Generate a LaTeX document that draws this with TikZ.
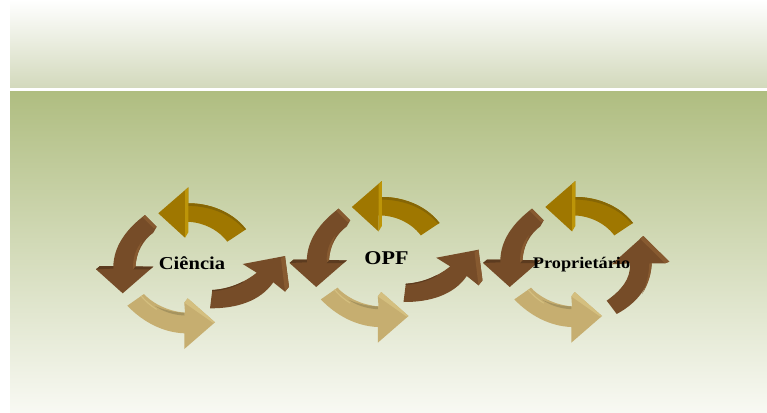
\documentclass[tikz,border=0pt]{standalone}
\usepackage{fontspec}
\setmainfont{Liberation Serif}
\newfontfamily\labelfont[FakeStretch=1.13,BoldFont={Liberation Serif Bold}]{Liberation Serif}
\definecolor{brownM}{HTML}{764C28}
\definecolor{brownL}{HTML}{875A30}
\definecolor{brownD}{HTML}{5C3B1F}
\definecolor{goldM}{HTML}{9F7700}
\definecolor{goldL}{HTML}{BD9508}
\definecolor{goldD}{HTML}{866605}
\definecolor{tanM}{HTML}{C6AE70}
\definecolor{tanL}{HTML}{D4BF7F}
\definecolor{tanD}{HTML}{A6945F}
\definecolor{bandTop}{HTML}{FFFFFF}
\definecolor{bandBot}{HTML}{D3D9BC}
\definecolor{fieldTop}{HTML}{AFBD80}
\definecolor{fieldBot}{HTML}{F8F9F3}
\tikzset{
  brownface/.style={fill=brownM},
  brownlight/.style={fill=brownL},
  browndark/.style={fill=brownD},
  goldface/.style={fill=goldM},
  goldlight/.style={fill=goldL},
  golddark/.style={fill=goldD},
  tanface/.style={fill=tanM},
  tanlight/.style={fill=tanL},
  tandark/.style={fill=tanD},
  label/.style={text=black,inner sep=0pt}
}
\newcommand{\goldarrow}{%
  \path[goldface] (158.3,213.3) -- (188.3,187.3) -- (188.3,203.3) .. controls (208,203) and (232,211) .. (246,229.3) -- (227.3,241.7) .. controls (217,228) and (200,221.5) .. (185,221.7) -- (185,237.7) -- cycle;
  \path[golddark] (188.3,203.3) .. controls (208,203) and (232,211) .. (246,229.3) -- (244.5,229.8) .. controls (230,213) and (208,205.5) .. (185,205.8) -- cycle;
  \path[goldlight] (185,190.5) -- (188.3,187.3) -- (188.3,232.3) -- (185,237.7) -- cycle;
}
\newcommand{\downarrowbrown}{%
  \path[brownface] (122.7,293.3) -- (96,269.3) -- (100,266) -- (113.3,266) .. controls (114,247) and (125,230) .. (145,215) -- (156.7,226.7) -- (153.3,232.7) .. controls (143,240) and (136,253) .. (135.5,266.5) -- (153.3,266.7) -- cycle;
  \path[browndark] (96,269.3) -- (100,266) -- (113.3,266) -- (113.3,268.6) -- cycle;
  \path[browndark] (133,266.3) -- (153.3,266.7) -- (150,269.3) -- (133,269.3) -- cycle;
  \path[brownlight] (133,269.3) .. controls (133,258) and (135,250) .. (142,241.5) .. controls (139,249) and (136,258) .. (135.5,266.7) -- cycle;
  \path[brownlight] (145,215) -- (156.7,226.7) -- (154,228.5) -- (142.5,217) -- cycle;
}
\newcommand{\tanarrow}{%
  \path[tanface] (127.3,305.7) -- (144,294) .. controls (150,301) and (165,311) .. (185,312.7) -- (184.3,302.7) -- (187.7,298.3) -- (215,322.3) -- (184.3,349) -- (184.3,333.3) .. controls (163,332.5) and (143,322) .. (127.3,305.7) -- cycle;
  \path[tandark] (155,306) .. controls (164,310) and (174,312.5) .. (184.3,312.7) -- (184.3,315.5) .. controls (173,315) and (163,311.5) .. (155,306) -- cycle;
  \path[tanlight] (140.7,296.3) -- (141.6,295.6) .. controls (146,301) and (151,305) .. (157,309) -- (156.4,309.8) .. controls (150,306) and (145,301.5) .. (140.7,296.3) -- cycle;
  \path[tanlight] (187.7,298.3) -- (215,322.3) -- (213,322.8) -- (184.3,302.7) -- cycle;
}
\newcommand{\rightarrowbrown}{%
  \path[brownface] (210,308.3) -- (212.3,290) .. controls (228,289) and (244,283) .. (256.7,272.7) -- (242.7,264) -- (285,256) -- (289,286.7) -- (285,291.7) -- (273.3,282.3) .. controls (260,301.5) and (236,308.5) .. (210,308.3) -- cycle;
  \path[browndark] (212.3,290) .. controls (222,289.5) and (233,287) .. (243,281.5) -- (243.3,282.2) .. controls (233,288) and (222,290.5) .. (212.1,291.3) -- cycle;
  \path[brownlight] (281,258.5) -- (285,256) -- (289,286.7) -- (285,291.7) -- cycle;
}
\newcommand{\uparrowbrown}{%
  \path[brownface] (616.7,314) -- (606.7,300.7) .. controls (620,291) and (631,280) .. (630,263.3) -- (611.7,264.3) -- (643.3,236) -- (669.3,261.7) -- (665,263.3) -- (651.7,263.3) .. controls (651,284) and (639,302) .. (616.7,314) -- cycle;
  \path[brownlight] (651.7,263.3) .. controls (651.3,274) and (648,285) .. (642,294) .. controls (646.5,285) and (649,274) .. (649.3,263.3) -- cycle;
  \path[brownlight] (643.3,236) -- (669.3,261.7) -- (665,263.3) -- (640,238.6) -- cycle;
}
\newcommand{\cyclebase}{\goldarrow\downarrowbrown\tanarrow}
\begin{document}
\begin{tikzpicture}[x=1pt,y=-1pt]
  \useasboundingbox (0,0) rectangle (767,412);
  \fill[white] (0,0) rectangle (767,412);
  \shade[top color=bandTop,bottom color=bandBot] (10,0) rectangle (767,88);
  \shade[top color=fieldTop,bottom color=fieldBot] (10,90) rectangle (767,412);
  \fill[white] (10,87.6) rectangle (767,90.8);
  \begin{scope}\cyclebase\rightarrowbrown\end{scope}
  \begin{scope}[shift={(193.5,-6.3)}]\cyclebase\rightarrowbrown\end{scope}
  \begin{scope}[shift={(387,-6.3)}]\cyclebase\end{scope}
  \uparrowbrown
  \node[label,font=\labelfont\bfseries\fontsize{18.2}{20}\selectfont] (ciencia) at (192,263.5) {Ciência};
  \node[label,font=\labelfont\bfseries\fontsize{19.5}{22}\selectfont] (opf) at (386.5,258) {OPF};
  \node[label,font=\labelfont\bfseries\fontsize{16.2}{18}\selectfont] (prop) at (581.5,265) {Proprietário};
\end{tikzpicture}
\end{document}
